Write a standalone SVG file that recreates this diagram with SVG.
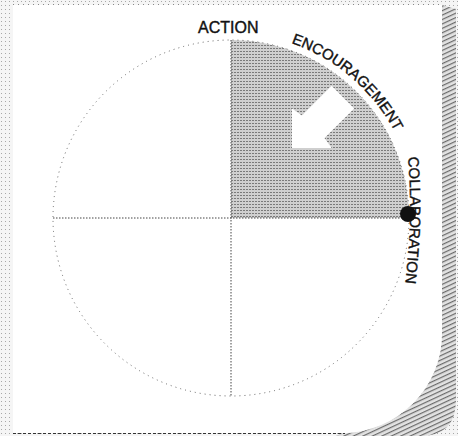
<svg xmlns="http://www.w3.org/2000/svg" width="458" height="436" viewBox="0 0 458 436">
  <defs>
    <pattern id="bgDots" width="4" height="4" patternUnits="userSpaceOnUse">
      <rect width="4" height="4" fill="#f5f5f5"/>
      <rect x="1" y="1" width="1" height="1" fill="#a8a8a8"/>
    </pattern>
    <pattern id="halftone" width="3" height="3" patternUnits="userSpaceOnUse">
      <rect width="3" height="3" fill="#cfcfcf"/>
      <rect x="0" y="0" width="2" height="1" fill="#7a7a7a"/>
    </pattern>
    <pattern id="hatch" width="4" height="4" patternUnits="userSpaceOnUse" patternTransform="rotate(-25)">
      <rect width="4" height="4" fill="#e2e2e2"/>
      <rect x="0" y="0" width="4" height="1.2" fill="#6a6a6a"/>
    </pattern>
    <path id="arcEnc" d="M 291.2 43.1 A 185 185 0 0 1 409.7 170.1"/>
    <path id="arcCol" d="M 408 157 Q 413.5 222 404 292"/>
  </defs>
  <style>
    .lbl { font-family: "Liberation Sans", Arial, sans-serif; font-size: 15px; fill: #111; stroke: #111; stroke-width: 0.4; }
    .axis { stroke: #444; stroke-width: 1; stroke-dasharray: 1.5 1.5; fill: none; }
    .ring { stroke: #666; stroke-width: 1; stroke-dasharray: 1 4; fill: none; }
  </style>

  <g id="background">
    <rect width="458" height="436" fill="url(#bgDots)"/>
    <path d="M 442 5 L 456 9 L 456 400 Q 456 436 420 436 L 336 436 L 343 433 A 100 100 0 0 0 442 333 Z" fill="url(#hatch)"/>
    <path d="M 13 5 H 442 V 333 A 100 100 0 0 1 343 433 H 13 Z" fill="#fff"/>
    <line x1="13" y1="433.5" x2="345" y2="433.5" stroke="#333" stroke-width="1" stroke-dasharray="3 2"/>
    <line x1="13" y1="4.5" x2="442" y2="4.5" stroke="#888" stroke-width="1" stroke-dasharray="1 4"/>
  </g>

  <g id="quadrant-shaded">
    <path d="M 231 218 L 231 40 A 178 178 0 0 1 409 218 Z" fill="url(#halftone)"/>
  </g>

  <g id="circle">
    <circle cx="231" cy="218" r="178" class="ring"/>
  </g>

  <g id="connectors">
    <line x1="53" y1="218" x2="409" y2="218" class="axis"/>
    <line x1="231" y1="40" x2="231" y2="396" class="axis"/>
  </g>

  <g id="arrow">
    <polygon points="292,148 292,108.4 301.9,115.5 331.6,85.8 354.2,108.4 324.5,138.1 331.6,148" fill="#fff"/>
  </g>

  <g id="label-action">
    <text class="lbl" x="198" y="33" style="font-size:16px">ACTION</text>
  </g>

  <g id="label-encouragement">
    <text class="lbl"><textPath href="#arcEnc">ENCOURAGEMENT</textPath></text>
  </g>

  <g id="label-collaboration">
    <text class="lbl"><textPath href="#arcCol">COLLABORATION</textPath></text>
  </g>

  <g id="dot">
    <circle cx="408" cy="214" r="8" fill="#111"/>
  </g>
</svg>
